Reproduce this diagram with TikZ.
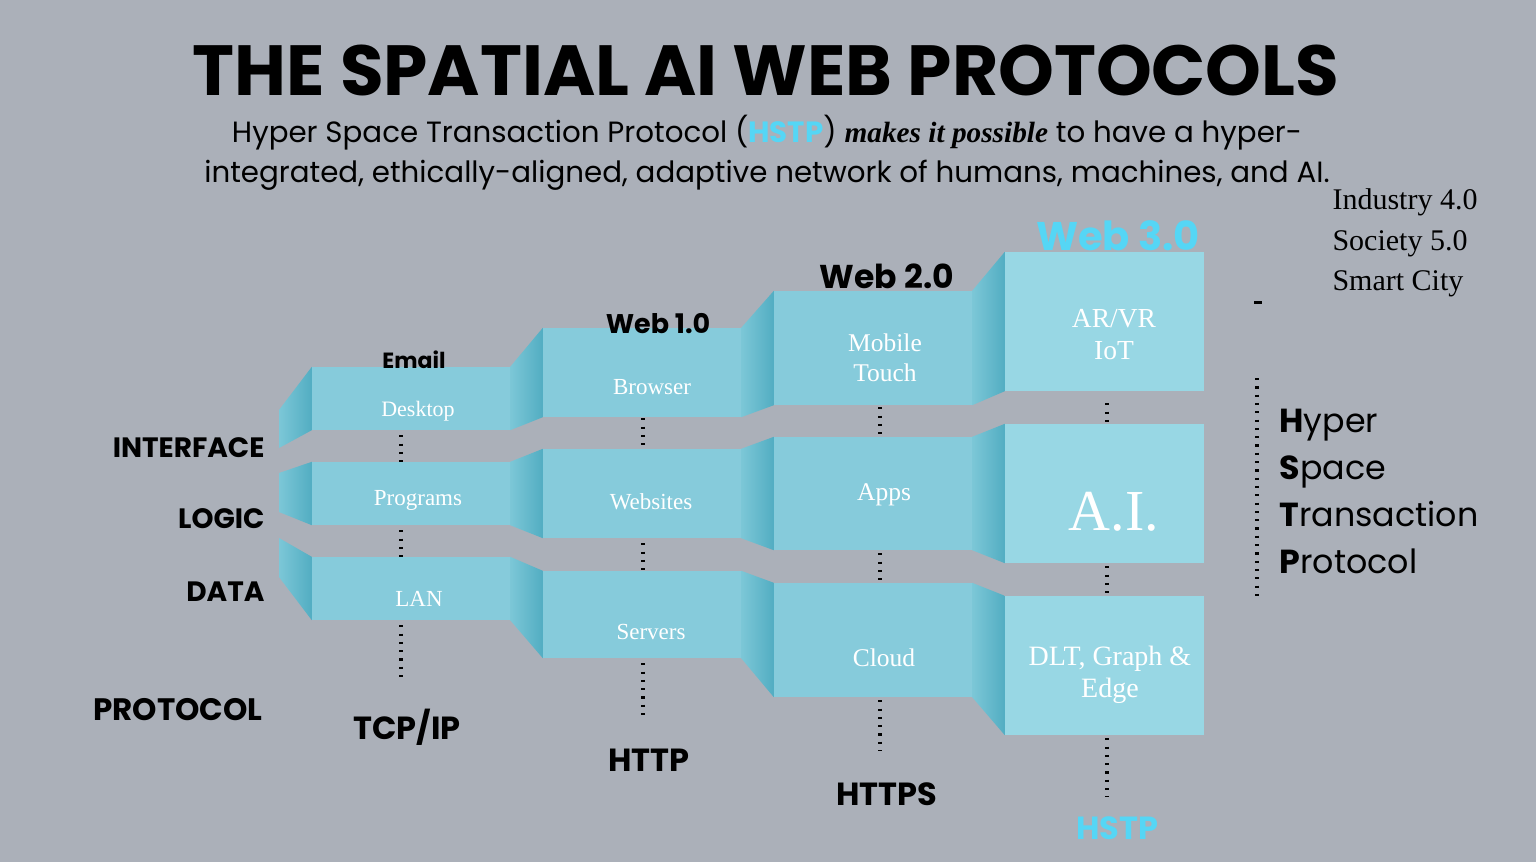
\documentclass[tikz,border=0pt]{standalone}
\usepackage{fontspec}
\setmainfont{Liberation Serif}
\newfontfamily\pop{Poppins}
\usepackage{xcolor}
\usetikzlibrary{positioning}
\definecolor{bggray}{HTML}{ABB0B9}
\definecolor{boxblue}{HTML}{86CBDB}
\definecolor{boxlight}{HTML}{98D7E4}
\definecolor{sidelight}{HTML}{7CC7D7}
\definecolor{sidedark}{HTML}{52ADC2}
\definecolor{hstpcyan}{HTML}{55D6F5}
\tikzset{
    box/.style={rectangle, fill=boxblue, minimum width=198pt, inner sep=0pt},
    newbox/.style={box, fill=boxlight, minimum width=199pt},
    boxtext/.style={text=white, align=center, font=\fontsize{23}{30}\selectfont},
    face/.style={left color=sidelight, right color=sidedark},
    layer/.style={anchor=east, font=\pop\bfseries\fontsize{28}{32}\selectfont},
    proto/.style={font=\pop\bfseries\fontsize{32}{36}\selectfont},
    dots/.style={line width=4pt, dash pattern=on 2.2pt off 6.1pt}
}

\begin{document}
\begin{tikzpicture}[x=1pt, y=-1pt]
    \fill[bggray] (0,0) rectangle (1536,862);
    \useasboundingbox (0,0) rectangle (1536,862);

    % heading
    \node[font=\pop\bfseries\fontsize{71}{76}\selectfont] (title) at (766,70) {THE SPATIAL AI WEB PROTOCOLS};
    \node[font=\pop\fontsize{29.3}{40}\selectfont, align=center] (sub) at (767,153)
        {Hyper Space Transaction Protocol ({\bfseries\color{hstpcyan}HSTP}) {\rmfamily\bfseries\itshape makes it possible} to have a hyper-\\
         integrated, ethically-aligned, adaptive network of humans, machines, and AI.};

    % boxes
    \node[box, minimum height=63pt] (desktop) at (411,398.5) {};
    \node[box, minimum height=63pt] (programs) at (411,493.5) {};
    \node[box, minimum height=63pt] (lan) at (411,588.5) {};
    \node[box, minimum height=89pt] (browser) at (642,372.5) {};
    \node[box, minimum height=89pt] (websites) at (642,493.5) {};
    \node[box, minimum height=87pt] (servers) at (642,614.5) {};
    \node[box, minimum height=114pt] (mobile) at (873,348) {};
    \node[box, minimum height=113pt] (apps) at (873,493.5) {};
    \node[box, minimum height=114pt] (cloud) at (873,640) {};
    \node[newbox, minimum height=139pt] (arvr) at (1104.5,321.5) {};
    \node[newbox, minimum height=139pt] (ai) at (1104.5,493.5) {};
    \node[newbox, minimum height=139pt] (dlt) at (1104.5,665.5) {};

    % side faces
    \coordinate (e0t) at (279,410);
    \coordinate (e0b) at (279,448);
    \coordinate (p0t) at (279,473);
    \coordinate (p0b) at (279,512);
    \coordinate (l0t) at (279,538);
    \coordinate (l0b) at (279,577);
    \shade[face] (e0t) -- (desktop.north west) -- (desktop.south west) -- (e0b) -- cycle;
    \shade[face] (p0t) -- (programs.north west) -- (programs.south west) -- (p0b) -- cycle;
    \shade[face] (l0t) -- (lan.north west) -- (lan.south west) -- (l0b) -- cycle;
    \shade[face] (desktop.north east) -- (browser.north west) -- (browser.south west) -- (desktop.south east) -- cycle;
    \shade[face] (programs.north east) -- (websites.north west) -- (websites.south west) -- (programs.south east) -- cycle;
    \shade[face] (lan.north east) -- (servers.north west) -- (servers.south west) -- (lan.south east) -- cycle;
    \shade[face] (browser.north east) -- (mobile.north west) -- (mobile.south west) -- (browser.south east) -- cycle;
    \shade[face] (websites.north east) -- (apps.north west) -- (apps.south west) -- (websites.south east) -- cycle;
    \shade[face] (servers.north east) -- (cloud.north west) -- (cloud.south west) -- (servers.south east) -- cycle;
    \shade[face] (mobile.north east) -- (arvr.north west) -- (arvr.south west) -- (mobile.south east) -- cycle;
    \shade[face] (apps.north east) -- (ai.north west) -- (ai.south west) -- (apps.south east) -- cycle;
    \shade[face] (cloud.north east) -- (dlt.north west) -- (dlt.south west) -- (cloud.south east) -- cycle;

    % box texts
    \node[boxtext, font=\fontsize{22}{30}\selectfont] at (418,411) {Desktop};
    \node[boxtext] at (418,500) {Programs};
    \node[boxtext] at (419,599) {LAN};
    \node[boxtext] at (652,387) {Browser};
    \node[boxtext] at (651,502) {Websites};
    \node[boxtext] at (651,632) {Servers};
    \node[boxtext, font=\fontsize{25.5}{30}\selectfont] at (885,358) {Mobile\\Touch};
    \node[boxtext, font=\fontsize{25.5}{30}\selectfont] at (884,495) {Apps};
    \node[boxtext, font=\fontsize{25.5}{30}\selectfont] at (884,658) {Cloud};
    \node[boxtext, font=\fontsize{27.5}{32}\selectfont] at (1114,335) {AR/VR\\IoT};
    \node[boxtext, font=\fontsize{58}{60}\selectfont] at (1114,512) {A.I.};
    \node[boxtext, font=\fontsize{28}{32}\selectfont] at (1110,675) {DLT, Graph \&\\Edge};

    % web generations
    \node[font=\pop\bfseries\fontsize{22}{26}\selectfont] (email) at (414,360) {Email};
    \node[font=\pop\bfseries\fontsize{27}{30}\selectfont] (web1) at (658,324) {Web 1.0};
    \node[font=\pop\bfseries\fontsize{33}{36}\selectfont] (web2) at (887,276) {Web 2.0};
    \node[font=\pop\bfseries\fontsize{40}{44}\selectfont, text=hstpcyan] (web3) at (1118,236) {Web 3.0};

    % layers
    \node[layer] (interface) at (268,448) {INTERFACE};
    \node[layer] (logic) at (268,519) {LOGIC};
    \node[layer] (data) at (268,592) {DATA};
    \node[layer, font=\pop\bfseries\fontsize{31}{34}\selectfont] (protocol) at (266,710) {PROTOCOL};

    % protocols
    \node[proto] (tcpip) at (407,727) {TCP/IP};
    \node[proto] (http) at (649,760) {HTTP};
    \node[proto] (https) at (887,794) {HTTPS};
    \node[proto, text=hstpcyan] (hstp) at (1117,828) {HSTP};

    % dotted links
    \draw[dots, shorten <=5pt] ([xshift=-10pt]desktop.south) -- ([xshift=-10pt]programs.north);
    \draw[dots, shorten <=5pt] ([xshift=-10pt]programs.south) -- ([xshift=-10pt]lan.north);
    \draw[dots, shorten <=5pt, shorten >=26pt] ([xshift=-10pt]lan.south) -- ([xshift=-10pt]lan.south |- tcpip.north);
    \draw[dots, shorten <=1pt] ([xshift=1pt]browser.south) -- ([xshift=1pt]websites.north);
    \draw[dots, shorten <=5pt] ([xshift=1pt]websites.south) -- ([xshift=1pt]servers.north);
    \draw[dots, shorten <=5pt, shorten >=28pt] ([xshift=1pt]servers.south) -- ([xshift=1pt]servers.south |- http.north);
    \draw[dots, shorten <=2pt] ([xshift=7pt]mobile.south) -- ([xshift=7pt]apps.north);
    \draw[dots, shorten <=3pt] ([xshift=7pt]apps.south) -- ([xshift=7pt]cloud.north);
    \draw[dots, shorten <=3pt, shorten >=28pt] ([xshift=7pt]cloud.south) -- ([xshift=7pt]cloud.south |- https.north);
    \draw[dots, shorten <=12pt] ([xshift=2.5pt]arvr.south) -- ([xshift=2.5pt]ai.north);
    \draw[dots, shorten <=3pt] ([xshift=2.5pt]ai.south) -- ([xshift=2.5pt]dlt.north);
    \draw[dots, shorten <=3pt, shorten >=16pt] ([xshift=2.5pt]dlt.south) -- ([xshift=2.5pt]dlt.south |- hstp.north);

    % right side
    \node[anchor=base west, font=\fontsize{30}{34}\selectfont] (industry) at (1329,209) {Industry 4.0};
    \node[anchor=base west, font=\fontsize{30}{34}\selectfont] (society) at (1329,250) {Society 5.0};
    \node[anchor=base west, font=\fontsize{30}{34}\selectfont] (smartcity) at (1329,290) {Smart City};
    \draw[line width=3pt] (1254,302) -- (1262,302);
    \coordinate (brtop) at (1257,378);
    \coordinate (brbot) at (1257,602);
    \draw[dots] (brtop) -- (brbot);
    \node[anchor=base west, font=\pop\fontsize{33.3}{40}\selectfont] (hyper) at (1276,432) {{\bfseries H}yper};
    \node[anchor=base west, font=\pop\fontsize{33.3}{40}\selectfont] (space) at (1276,479) {{\bfseries S}pace};
    \node[anchor=base west, font=\pop\fontsize{33.3}{40}\selectfont] (transaction) at (1276,526) {{\bfseries T}ransaction};
    \node[anchor=base west, font=\pop\fontsize{33.3}{40}\selectfont] (protocolword) at (1276,573) {{\bfseries P}rotocol};
\end{tikzpicture}
\end{document}
